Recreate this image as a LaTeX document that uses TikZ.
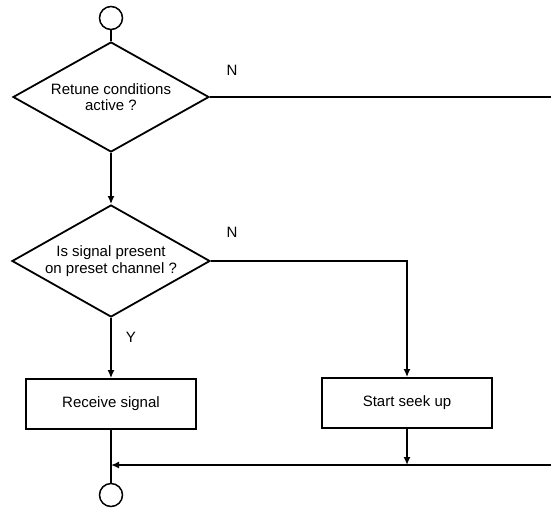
\documentclass[tikz,border=0pt]{standalone}
\usepackage{fontspec}
\setmainfont{Liberation Sans}
\usetikzlibrary{shapes.geometric,arrows.meta}
\begin{document}
\begin{tikzpicture}[x=1pt,y=-1pt,
  every node/.style={font=\fontsize{15}{16.5}\selectfont},
  line/.style={line width=1.8pt},
  arr/.style={line width=1.8pt,-{Latex[length=8pt,width=7pt]}},
  decision/.style={diamond,draw,line width=1.8pt,inner sep=0pt,align=center,shape aspect=1.8},
  procbox/.style={rectangle,draw,line width=1.8pt,minimum width=170pt,minimum height=50pt,inner sep=0pt},
  term/.style={circle,draw,line width=1.5pt,minimum size=23pt,inner sep=0pt},
  lbl/.style={inner sep=0pt}]
\useasboundingbox (0,0) rectangle (551,507);
\node[term] (start) at (111,18) {};
\node[decision,minimum width=196pt,minimum height=110pt] (d1) at (111,97) {Retune conditions\\active ?};
\node[decision,minimum width=198pt,minimum height=112pt] (d2) at (111,261) {Is signal present\\on preset channel ?};
\node[procbox] (recv) at (111,404) {Receive signal};
\node[procbox] (seek) at (407,403) {Start seek up};
\node[term] (stop) at (111,495) {};
\coordinate (e1) at (551,97);
\coordinate (e2) at (551,465);
\coordinate (j1) at (111,465);
\coordinate (j2) at (407,465);
\node[lbl] (n1) at (232,70) {N};
\node[lbl] (n2) at (232,232) {N};
\node[lbl] (y1) at (131,337) {Y};
\draw[line] (start) -- (d1.north);
\draw[arr] (d1.south) -- (d2.north);
\draw[line] (d1.east) -- (e1);
\draw[arr] (d2.east) -| (seek.north);
\draw[arr] (d2.south) -- (recv.north);
\draw[arr] (seek.south) -- (j2);
\draw[arr] (e2) -- (j1);
\draw[line] (recv.south) -- (stop.north);
\end{tikzpicture}
\end{document}
